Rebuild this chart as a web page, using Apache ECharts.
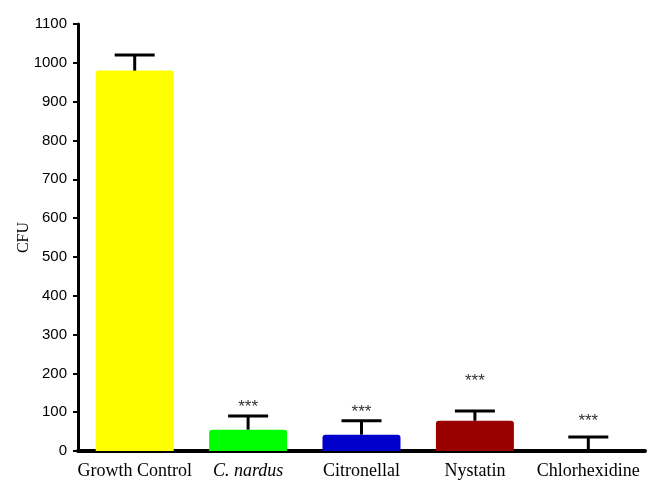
<!DOCTYPE html>
<html>
<head>
<meta charset="utf-8">
<script src="https://cdn.jsdelivr.net/npm/echarts@6/dist/echarts.min.js"></script>
<style>
  html, body { margin: 0; padding: 0; background: #fff; }
  #chart { width: 660px; height: 480px; }
</style>
</head>
<body>
<div id="chart"></div>
<script>
// 数据
const categories = ['Growth Control', 'C. nardus', 'Citronellal', 'Nystatin', 'Chlorhexidine'];
const cfuMean = [980, 55, 42, 78, 0];
const cfuErrTop = [1020, 90, 78, 103, 36];
const starY = [null, 121, 108, 188, 85];   // "***" 标记的纵向位置
const barColors = ['#ffff00', '#00ff00', '#0000cc', '#990000', '#ffffff'];

const chart = echarts.init(document.getElementById('chart'));

const serif = '"Liberation Serif", "Times New Roman", serif';

const option = {
    animation: false,
    grid: { left: 78, right: 15, top: 24, bottom: 28, containLabel: false },
    xAxis: {
        type: 'category',
        data: categories,
        axisLine: { lineStyle: { color: '#000', width: 4 } },
        axisTick: { show: false },
        axisLabel: {
            interval: 0,
            margin: 11,
            fontFamily: serif,
            fontSize: 18,
            color: '#000',
            formatter: function (v) {
                return v === 'C. nardus' ? '{it|' + v + '}' : v;
            },
            rich: {
                it: { fontFamily: serif, fontStyle: 'italic', fontSize: 18, color: '#000' }
            }
        }
    },
    yAxis: {
        type: 'value',
        min: 0,
        max: 1100,
        interval: 100,
        name: 'CFU',
        nameLocation: 'middle',
        nameGap: 46,
        nameMoveOverlap: false,
        nameTextStyle: { fontFamily: serif, fontSize: 16, color: '#000' },
        splitLine: { show: false },
        axisLine: { show: true, lineStyle: { color: '#000', width: 3 } },
        axisTick: { show: true, length: 5, lineStyle: { color: '#000', width: 2 } },
        axisLabel: {
            margin: 11,
            fontFamily: '"Liberation Sans Narrow", "Liberation Sans", Arial, sans-serif',
            fontSize: 15,
            color: '#000',
            formatter: function (v) { return String(v); }
        }
    },
    series: [
        {
            type: 'bar',
            barWidth: 78,
            data: cfuMean.map((v, i) => ({
                value: v,
                itemStyle: { color: barColors[i], borderRadius: [3, 3, 0, 0] }
            }))
        },
        {
            // 误差线
            type: 'custom',
            data: cfuMean.map((v, i) => [i, v, cfuErrTop[i]]),
            renderItem: function (params, api) {
                const base = api.coord([api.value(0), api.value(1)]);
                const top = api.coord([api.value(0), api.value(2)]);
                const half = 20;
                const style = { stroke: '#000', lineWidth: 3 };
                return {
                    type: 'group',
                    children: [
                        { type: 'line', shape: { x1: base[0], y1: base[1], x2: top[0], y2: top[1] }, style: style },
                        { type: 'line', shape: { x1: top[0] - half, y1: top[1], x2: top[0] + half, y2: top[1] }, style: style }
                    ]
                };
            },
            z: 3
        },
        {
            // 显著性标记 ***
            type: 'custom',
            data: starY.map((v, i) => [i, v]).filter(d => d[1] !== null),
            renderItem: function (params, api) {
                const p = api.coord([api.value(0), api.value(1)]);
                return {
                    type: 'text',
                    x: p[0],
                    y: p[1] + 3,
                    style: {
                        text: '***',
                        fill: '#333',
                        font: '17px "Liberation Sans", Arial, sans-serif',
                        align: 'center',
                        verticalAlign: 'middle'
                    }
                };
            },
            z: 4
        }
    ]
};

chart.setOption(option);
</script>
</body>
</html>
